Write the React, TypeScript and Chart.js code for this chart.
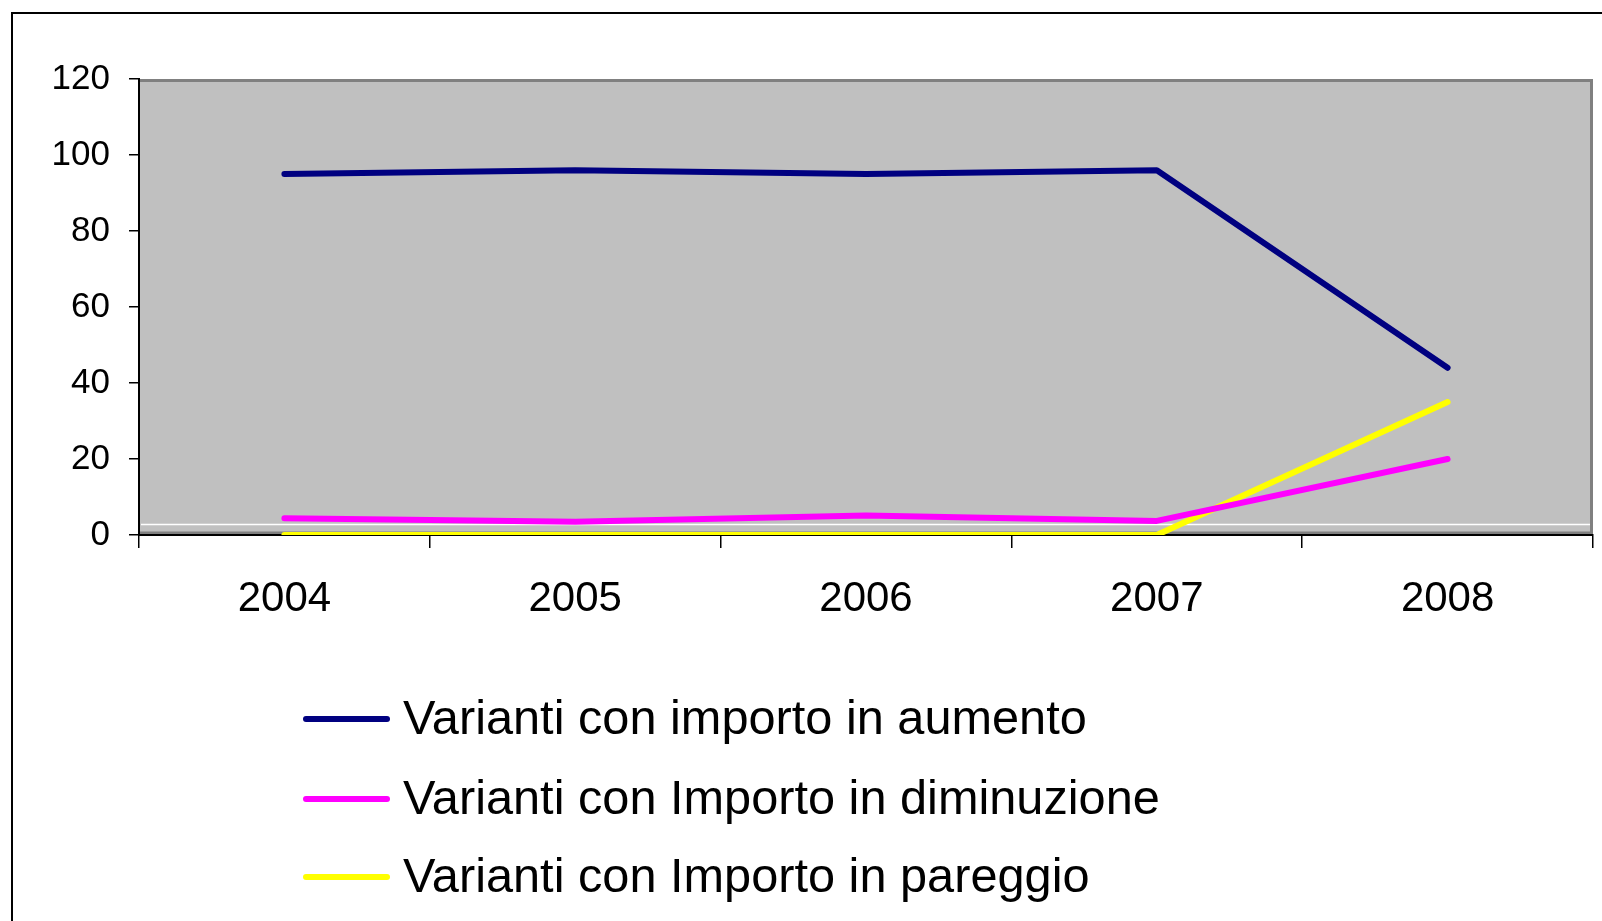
import React, { useEffect, useRef } from 'react';
import { Chart, registerables } from 'chart.js';

Chart.register(...registerables);

const years = ['2004', '2005', '2006', '2007', '2008'];
const aumento = [95, 96, 95, 96, 44];
const diminuzione = [4.4, 3.5, 5.1, 3.7, 20];
const pareggio = [0, 0, 0, 0, 35];
const seriesLabels = [
  'Varianti con importo in aumento',
  'Varianti con Importo in diminuzione',
  'Varianti con Importo in pareggio',
];
const seriesColors = ['#000080', '#FF00FF', '#FFFF00'];
const yTicks = [0, 20, 40, 60, 80, 100, 120];
const refLineValue = 3;

const FONT = "'Liberation Sans', Arial, sans-serif";

const plotBg = {
  id: 'plotBg',
  beforeDraw(chart: any) {
    const { ctx, chartArea: a, scales } = chart;
    ctx.save();
    ctx.fillStyle = '#C0C0C0';
    ctx.fillRect(a.left, a.top, a.right - a.left, a.bottom - a.top);
    ctx.strokeStyle = '#808080';
    ctx.lineWidth = 3;
    ctx.beginPath();
    ctx.moveTo(a.left, a.top + 1.5);
    ctx.lineTo(a.right - 1.5, a.top + 1.5);
    ctx.lineTo(a.right - 1.5, a.bottom);
    ctx.moveTo(a.left, a.bottom - 2);
    ctx.lineTo(a.right, a.bottom - 2);
    ctx.stroke();
    const y = Math.round(scales.y.getPixelForValue(refLineValue)) + 0.5;
    ctx.strokeStyle = '#FFFFFF';
    ctx.lineWidth = 1.5;
    ctx.beginPath();
    ctx.moveTo(a.left + 2, y);
    ctx.lineTo(a.right - 3, y);
    ctx.stroke();
    ctx.restore();
  },
};

export default function App() {
  const ref = useRef<HTMLCanvasElement | null>(null);

  useEffect(() => {
    if (!ref.current) return;
    const seriesData = [aumento, diminuzione, pareggio];
    const chart = new Chart(ref.current, {
      type: 'line',
      data: {
        labels: years,
        datasets: seriesData.map((d, i) => ({
          label: seriesLabels[i],
          data: d,
          borderColor: seriesColors[i],
          backgroundColor: seriesColors[i],
          borderWidth: 6,
          borderCapStyle: 'round',
          borderJoinStyle: 'round',
          pointRadius: 0,
          pointHoverRadius: 0,
          tension: 0,
          fill: false,
          clip: 0,
        })),
      },
      options: {
        responsive: false,
        animation: false,
        events: [],
        layout: { padding: { top: 79, right: 9, left: 0, bottom: 0 } },
        plugins: {
          legend: { display: false },
          tooltip: { enabled: false },
          title: { display: false },
        },
        scales: {
          x: {
            type: 'category',
            offset: true,
            grid: {
              offset: true,
              drawOnChartArea: false,
              tickLength: 13,
              color: '#000',
              lineWidth: 1.5,
            },
            border: { display: true, color: '#000', width: 2 },
            ticks: {
              color: '#000',
              font: { family: FONT, size: 42 },
              padding: 26,
              maxRotation: 0,
              autoSkip: false,
            },
            afterFit(scale: any) {
              scale.height = 105;
            },
          },
          y: {
            type: 'linear',
            min: 0,
            max: 120,
            grid: {
              drawOnChartArea: false,
              tickLength: 10,
              color: '#000',
              lineWidth: 1.5,
            },
            border: { display: true, color: '#000', width: 2 },
            ticks: {
              color: '#000',
              font: { family: FONT, size: 35 },
              padding: 19,
            },
            afterBuildTicks(scale: any) {
              scale.ticks = yTicks.map((v) => ({ value: v }));
            },
            afterFit(scale: any) {
              scale.width = 139;
            },
          },
        },
      },
      plugins: [plotBg],
    } as any);
    return () => chart.destroy();
  }, []);

  const legendRows = [717, 797, 875];

  return (
    <div
      style={{
        position: 'fixed',
        left: 0,
        top: 0,
        width: 1602,
        height: 921,
        overflow: 'hidden',
        background: '#fff',
      }}
    >
      <div
        style={{
          position: 'absolute',
          left: 11,
          top: 12,
          right: -20,
          bottom: -20,
          borderLeft: '2px solid #000',
          borderTop: '2px solid #000',
        }}
      />
      <canvas
        ref={ref}
        width={1602}
        height={640}
        style={{ position: 'absolute', left: 0, top: 0, display: 'block' }}
      />
      {seriesLabels.map((lab, i) => (
        <div
          key={lab}
          style={{
            position: 'absolute',
            left: 303,
            top: legendRows[i] - 35,
            height: 70,
            display: 'flex',
            alignItems: 'center',
            whiteSpace: 'nowrap',
            fontFamily: FONT,
            fontSize: 48.7,
            color: '#000',
          }}
        >
          <div
            style={{
              width: 87,
              height: 6,
              borderRadius: 3,
              background: seriesColors[i],
              marginRight: 13,
              marginTop: 4,
              flex: 'none',
            }}
          />
          <span style={{ lineHeight: '70px' }}>{lab}</span>
        </div>
      ))}
    </div>
  );
}
